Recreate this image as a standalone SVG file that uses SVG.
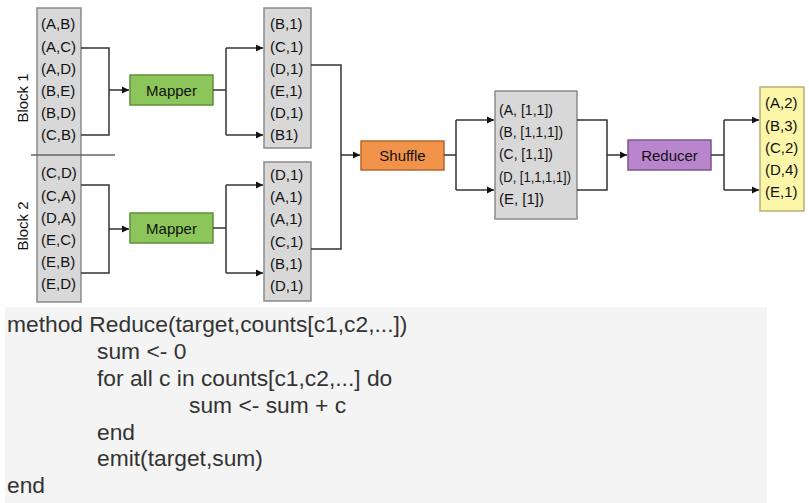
<svg xmlns="http://www.w3.org/2000/svg" width="809" height="503" viewBox="0 0 809 503">
<style>
.box{fill:#d8d8d8;stroke:#8a8a8a;stroke-width:1.5}
.yel{fill:#fbf6a8;stroke:#b5ae78;stroke-width:1.5}
.map{fill:#8cc55a;stroke:#5d8f3c;stroke-width:1.5}
.shuf{fill:#f2934c;stroke:#b8662c;stroke-width:1.5}
.red{fill:#b985cc;stroke:#7d568d;stroke-width:1.5}
.t{font-family:"Liberation Sans",Arial,sans-serif;font-size:15px;fill:#111}
.lbl{font-family:"Liberation Sans",Arial,sans-serif;font-size:15px;fill:#111;text-anchor:middle}
.code{font-family:"Liberation Sans",Arial,sans-serif;font-size:22.8px;fill:#333}
.ln{fill:none;stroke:#333;stroke-width:1.5}
</style>
<defs>
<marker id="arr" markerWidth="8" markerHeight="8" refX="7" refY="4" orient="auto" markerUnits="userSpaceOnUse">
<path d="M0,0.5 L7,4 L0,7.5 Z" fill="#111"/>
</marker>
</defs>

<rect x="5" y="307" width="762" height="196" fill="#f4f4f4"/>

<g id="block-input">
<rect class="box" x="37" y="8" width="44" height="294"/>
<line x1="31" y1="155" x2="115" y2="155" stroke="#666" stroke-width="1.5"/>
<text class="t" x="41" y="29">(A,B)</text>
<text class="t" x="41" y="52">(A,C)</text>
<text class="t" x="41" y="74">(A,D)</text>
<text class="t" x="41" y="96">(B,E)</text>
<text class="t" x="41" y="118">(B,D)</text>
<text class="t" x="41" y="140">(C,B)</text>
<text class="t" x="41" y="178">(C,D)</text>
<text class="t" x="41" y="201">(C,A)</text>
<text class="t" x="41" y="223">(D,A)</text>
<text class="t" x="41" y="245">(E,C)</text>
<text class="t" x="41" y="267">(E,B)</text>
<text class="t" x="41" y="289">(E,D)</text>
<text class="lbl" transform="translate(28,98) rotate(-90)">Block 1</text>
<text class="lbl" transform="translate(28,226) rotate(-90)">Block 2</text>
</g>

<g id="mapper1">
<rect class="map" x="130" y="75" width="83" height="30"/>
<text class="lbl" x="171.5" y="95.5">Mapper</text>
</g>
<g id="mapper2">
<rect class="map" x="130" y="213" width="83" height="30"/>
<text class="lbl" x="171.5" y="233.5">Mapper</text>
</g>

<g id="map-out1">
<rect class="box" x="264" y="8" width="47" height="140"/>
<text class="t" x="270" y="29">(B,1)</text>
<text class="t" x="270" y="52">(C,1)</text>
<text class="t" x="270" y="74">(D,1)</text>
<text class="t" x="270" y="96">(E,1)</text>
<text class="t" x="270" y="118">(D,1)</text>
<text class="t" x="270" y="140">(B1)</text>
</g>
<g id="map-out2">
<rect class="box" x="264" y="162" width="47" height="139"/>
<text class="t" x="270" y="180">(D,1)</text>
<text class="t" x="270" y="202">(A,1)</text>
<text class="t" x="270" y="224">(A,1)</text>
<text class="t" x="270" y="247">(C,1)</text>
<text class="t" x="270" y="269">(B,1)</text>
<text class="t" x="270" y="291">(D,1)</text>
</g>

<g id="shuffle">
<rect class="shuf" x="361" y="141" width="83" height="29"/>
<text class="lbl" x="402.5" y="161">Shuffle</text>
</g>

<g id="grouped">
<rect class="box" x="495" y="91" width="82" height="128"/>
<text class="t" x="499" y="115" textLength="54" lengthAdjust="spacingAndGlyphs">(A, [1,1])</text>
<text class="t" x="499" y="137" textLength="64" lengthAdjust="spacingAndGlyphs">(B, [1,1,1])</text>
<text class="t" x="499" y="159" textLength="54" lengthAdjust="spacingAndGlyphs">(C, [1,1])</text>
<text class="t" x="499" y="182" textLength="72" lengthAdjust="spacingAndGlyphs">(D, [1,1,1,1])</text>
<text class="t" x="499" y="204" textLength="45" lengthAdjust="spacingAndGlyphs">(E, [1])</text>
</g>

<g id="reducer">
<rect class="red" x="628" y="140" width="83" height="30"/>
<text class="lbl" x="669.5" y="160.5">Reducer</text>
</g>

<g id="result">
<rect class="yel" x="760" y="87" width="44" height="124"/>
<text class="t" x="765" y="108">(A,2)</text>
<text class="t" x="765" y="131">(B,3)</text>
<text class="t" x="765" y="153">(C,2)</text>
<text class="t" x="765" y="175">(D,4)</text>
<text class="t" x="765" y="197">(E,1)</text>
</g>

<g id="connectors">
<path class="ln" d="M81,48 H109 V135 H81"/>
<path class="ln" d="M109,90 H129" marker-end="url(#arr)"/>
<path class="ln" d="M81,185 H109 V273 H81"/>
<path class="ln" d="M109,229 H129" marker-end="url(#arr)"/>
<path class="ln" d="M213,90 H226"/>
<path class="ln" d="M226,48 V135"/>
<path class="ln" d="M226,48 H263" marker-end="url(#arr)"/>
<path class="ln" d="M226,135 H263" marker-end="url(#arr)"/>
<path class="ln" d="M213,228 H226"/>
<path class="ln" d="M226,185 V273"/>
<path class="ln" d="M226,185 H263" marker-end="url(#arr)"/>
<path class="ln" d="M226,273 H263" marker-end="url(#arr)"/>
<path class="ln" d="M311,65 H341 V249 H311"/>
<path class="ln" d="M341,155 H360" marker-end="url(#arr)"/>
<path class="ln" d="M444,155 H456"/>
<path class="ln" d="M456,120 V190"/>
<path class="ln" d="M456,120 H494" marker-end="url(#arr)"/>
<path class="ln" d="M456,190 H494" marker-end="url(#arr)"/>
<path class="ln" d="M577,120 H607 V190 H577"/>
<path class="ln" d="M607,155 H627" marker-end="url(#arr)"/>
<path class="ln" d="M711,155 H724"/>
<path class="ln" d="M724,120 V190"/>
<path class="ln" d="M724,120 H759" marker-end="url(#arr)"/>
<path class="ln" d="M724,190 H759" marker-end="url(#arr)"/>
</g>

<g id="code">
<text class="code" x="7" y="332">method Reduce(target,counts[c1,c2,...])</text>
<text class="code" x="97" y="359">sum &lt;- 0</text>
<text class="code" x="97" y="386">for all c in counts[c1,c2,...] do</text>
<text class="code" x="189" y="413">sum &lt;- sum + c</text>
<text class="code" x="97" y="440">end</text>
<text class="code" x="97" y="466">emit(target,sum)</text>
<text class="code" x="7" y="493">end</text>
</g>
</svg>
